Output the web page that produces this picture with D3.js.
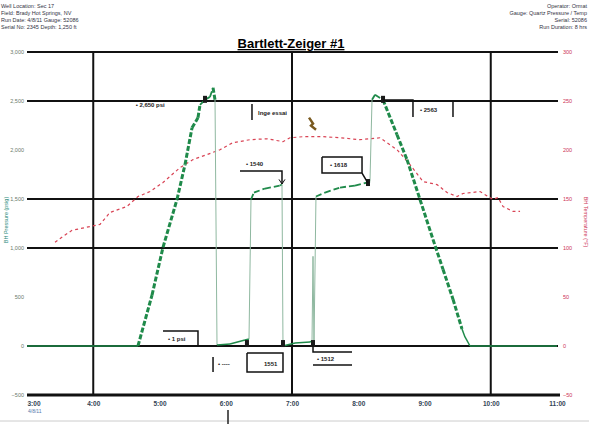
<!DOCTYPE html>
<html>
<head>
<meta charset="utf-8">
<script src="https://cdn.jsdelivr.net/npm/d3@7"></script>
<style>
  body { margin: 0; background: #fff; }
  text { font-family: "Liberation Sans", Arial, sans-serif; }
</style>
</head>
<body>
<div id="chart"></div>
<script>
// time in decimal hours, pressure in psig, temperature in deg F
const pressTime = [3.0, 4.675, 4.887, 5.053, 5.264, 5.385, 5.491, 5.581, 5.611, 5.687, 5.762, 5.808, 5.838,
  5.868, 6.064, 6.29, 6.351, 6.381, 6.426, 6.592, 6.819, 6.849, 6.864, 7.045, 7.272, 7.302, 7.317, 7.332,
  7.362, 7.498, 7.725, 7.951, 8.132, 8.177, 8.208, 8.253, 8.374, 8.585, 8.736, 8.932, 9.128, 9.279, 9.43,
  9.566, 9.611, 9.687, 11.0];
const pressValue = [0, 0, 519, 1007, 1495, 1851, 2227, 2329, 2461, 2512, 2542, 2634, 2512,
  10, 20, 61, 71, 1495, 1566, 1607, 1637, 1648, 0, 31, 41, 51, 915, 20,
  1525, 1566, 1617, 1637, 1668, 1678, 2512, 2563, 2512, 2156, 1902, 1495, 1088, 783, 478,
  173, 92, 0, 0];

const tempTime = [3.423, 3.543, 3.679, 4.102, 4.253, 4.509, 4.675, 4.857, 5.053, 5.309, 5.506, 5.717, 5.913,
  6.109, 6.366, 6.623, 6.864, 6.97, 7.166, 7.317, 7.468, 7.725, 8.026, 8.328, 8.585, 8.781, 8.977, 9.189,
  9.34, 9.491, 9.581, 9.838, 10.034, 10.109, 10.185, 10.336, 10.442];
const tempValue = [105.8, 111.9, 118.0, 124.1, 136.3, 142.4, 152.5, 157.6, 166.8, 182.0, 190.2, 195.3, 200.3,
  207.5, 210.5, 211.5, 208.5, 212.5, 213.6, 213.6, 213.6, 212.5, 210.5, 212.5, 200.3, 185.1, 167.8, 164.7,
  156.6, 152.5, 155.6, 157.6, 149.5, 151.5, 142.4, 137.3, 137.3];

const timeTicks = [3, 4, 5, 6, 7, 8, 9, 10, 11];
const timeLabels = ["3:00", "4:00", "5:00", "6:00", "7:00", "8:00", "9:00", "10:00", "11:00"];
const pressTicks = [-500, 0, 500, 1000, 1500, 2000, 2500, 3000];
const tempTicks = [-50, 0, 50, 100, 150, 200, 250, 300];
const pressGrid = [0, 1000, 1500, 2500, 3000];
const timeGrid = [4, 7, 10];

const markerTime = [5.687, 6.32, 6.864, 7.317, 8.147, 8.374];
const markerPress = [2512, 20, 20, 20, 1663, 2512];

const headerLeft = ["Well Location: Sec 17", "Field: Brady Hot Springs, NV", "Run Date: 4/8/11  Gauge: 52086", "Serial No: 2345  Depth: 1,250 ft"];
const headerRight = ["Operator: Ormat", "Gauge: Quartz Pressure / Temp", "Serial: 52086", "Run Duration: 8 hrs"];

// callouts: polylines and labels in (hours, psig)
const calloutLines = [
  [[6.396, 2469], [6.396, 2306]],
  [[6.215, 1786], [6.849, 1786], [6.849, 1653]],
  [[7.453, 1929], [8.057, 1929], [8.057, 1765], [7.453, 1765], [7.453, 1929]],
  [[8.057, 1765], [8.147, 1663]],
  [[8.374, 2510], [8.826, 2510], [8.826, 2337]],
  [[9.43, 2510], [9.43, 2337]],
  [[5.053, 153], [5.581, 153], [5.581, 0]],
  [[5.808, -112], [5.808, -265]],
  [[6.321, -71], [6.864, -71], [6.864, -265], [6.321, -265], [6.321, -71]],
  [[7.317, 10], [7.317, -61], [7.906, -61]],
  [[7.317, -194], [7.906, -194]]
];
const calloutTexts = [
  [4.64, 2440, "\u2022 2,650 psi"],
  [6.487, 2357, "Inge essai"],
  [6.306, 1840, "\u2022 1540"],
  [7.574, 1830, "\u2022 1618"],
  [8.932, 2390, "\u2022 2563"],
  [5.128, 48, "\u2022 1 psi"],
  [5.883, -205, "\u2022 ----"],
  [6.577, -205, "1551"],
  [7.377, -155, "\u2022 1512"]
];

const width = 589, height = 424;
const svg = d3.select("#chart").append("svg").attr("width", width).attr("height", height);

const x = d3.scaleLinear().domain([3, 11]).range([27, 557]);
const yP = d3.scaleLinear().domain([-500, 3000]).range([395, 52]);
const yT = d3.scaleLinear().domain([-50, 300]).range([395, 52]);

// header text
svg.append("g").selectAll("text").data(headerLeft).join("text")
  .attr("x", 1).attr("y", (d, i) => 8 + i * 7)
  .attr("font-size", 5.5).attr("fill", "#334").text(d => d);
svg.append("g").selectAll("text").data(headerRight).join("text")
  .attr("x", 587).attr("y", (d, i) => 8 + i * 7).attr("text-anchor", "end")
  .attr("font-size", 5.5).attr("fill", "#334").text(d => d);

svg.append("text").attr("x", 291).attr("y", 48).attr("text-anchor", "middle")
  .attr("font-size", 13).attr("font-weight", "bold")
  .attr("text-decoration", "underline").text("Bartlett-Zeiger #1");

// grid
svg.append("g").selectAll("line").data(pressGrid).join("line")
  .attr("x1", x(3)).attr("x2", 558).attr("y1", d => yP(d)).attr("y2", d => yP(d))
  .attr("stroke", "#111").attr("stroke-width", 2);
svg.append("g").selectAll("line").data(timeGrid).join("line")
  .attr("x1", d => x(d)).attr("x2", d => x(d)).attr("y1", yP(3000)).attr("y2", yP(-500))
  .attr("stroke", "#111").attr("stroke-width", 2);

// bottom axis
const xAxis = d3.axisBottom(x).tickValues(timeTicks).tickSize(0).tickFormat((d, i) => timeLabels[i]);
const gx = svg.append("g").attr("transform", `translate(0,${yP(-500)})`).call(xAxis);
gx.select(".domain").attr("stroke", "#111").attr("stroke-width", 3).attr("d", "M0,0H533");
gx.select(".domain").attr("transform", "translate(27,0)");
gx.selectAll("text").attr("font-size", 6.5).attr("font-weight", "bold").attr("fill", "#345").attr("dy", 8);
gx.selectAll(".tick text").filter((d, i) => i === 0).attr("text-anchor", "start").attr("dx", 0);
svg.append("text").attr("x", 28).attr("y", 413).attr("font-size", 5).attr("fill", "#5577aa").text("4/8/11");

// left axis labels
const yAxisL = d3.axisLeft(yP).tickValues(pressTicks).tickSize(0).tickPadding(3);
const gl = svg.append("g").attr("transform", `translate(${x(3)},0)`).call(yAxisL);
gl.select(".domain").remove();
gl.selectAll("text").attr("font-size", 5.5).attr("fill", "#6a7a6a");
svg.append("text").attr("transform", "translate(8,220) rotate(-90)").attr("text-anchor", "middle")
  .attr("font-size", 5.5).attr("fill", "#2a8a7a").text("BH Pressure (psig)");

// right axis labels
const yAxisR = d3.axisRight(yT).tickValues(tempTicks).tickSize(0).tickPadding(5);
const gr = svg.append("g").attr("transform", "translate(558,0)").call(yAxisR);
gr.select(".domain").remove();
gr.selectAll("text").attr("font-size", 5.5).attr("fill", "#cc3355");
svg.append("text").attr("transform", "translate(584,222) rotate(90)").attr("text-anchor", "middle")
  .attr("font-size", 5.5).attr("fill", "#cc3355").text("BH Temperature (\u00b0F)");

// temperature series
const tempData = tempTime.map((t, i) => [t, tempValue[i]]);
svg.append("path").datum(tempData)
  .attr("d", d3.line().x(d => x(d[0])).y(d => yT(d[1])))
  .attr("fill", "none").attr("stroke", "#d94455").attr("stroke-width", 1.2)
  .attr("stroke-dasharray", "3,3");

// pressure series: draw each step, jumps thin, ramps thick dashed, plateaus thin dashed
const pressData = pressTime.map((t, i) => [t, pressValue[i]]);
const segs = d3.pairs(pressData);
const line = d3.line().x(d => x(d[0])).y(d => yP(d[1]));
const segKind = d => {
  const dp = Math.abs(d[1][1] - d[0][1]);
  if (dp > 600) return "jump";
  if (dp >= 100) return "ramp";
  if (d[0][1] > 200) return "plateau";
  return "flat";
};
svg.append("g").selectAll("path").data(segs).join("path")
  .attr("d", d => line(d))
  .attr("fill", "none")
  .attr("stroke", d => segKind(d) === "jump" ? "#8fb8a0" : "#1f8a4a")
  .attr("stroke-width", d => ({ jump: 1, ramp: 3, plateau: 1.8, flat: 1.5 })[segKind(d)])
  .attr("stroke-dasharray", d => ({ ramp: "5,2", plateau: "6,3" })[segKind(d)] || null);

// event markers
svg.append("g").selectAll("rect").data(markerTime).join("rect")
  .attr("x", d => x(d) - 2).attr("y", (d, i) => yP(markerPress[i]) - 4)
  .attr("width", 4).attr("height", 7).attr("fill", "#1a1a1a");
svg.append("path")
  .attr("d", `M${x(7.257)},${yP(2330)} l4,6 l-2,2 l5,4`)
  .attr("fill", "none").attr("stroke", "#7a5a20").attr("stroke-width", 2.5);

// callouts
svg.append("g").selectAll("path").data(calloutLines).join("path")
  .attr("d", d => line(d)).attr("fill", "none").attr("stroke", "#111").attr("stroke-width", 1.5);
svg.append("path")
  .attr("d", `M${x(6.849) - 3},${yP(1700)} L${x(6.849)},${yP(1653)} L${x(6.849) + 3},${yP(1700)}`)
  .attr("fill", "none").attr("stroke", "#111").attr("stroke-width", 1);
svg.append("g").selectAll("text").data(calloutTexts).join("text")
  .attr("x", d => x(d[0])).attr("y", d => yP(d[1]))
  .attr("font-size", 6).attr("font-weight", "bold").attr("fill", "#222").text(d => d[2]);

// bottom frame line
svg.append("line").attr("x1", 0).attr("x2", width).attr("y1", 421).attr("y2", 421)
  .attr("stroke", "#ccc").attr("stroke-width", 1);
svg.append("line").attr("x1", 228).attr("x2", 228).attr("y1", 410).attr("y2", 424)
  .attr("stroke", "#222").attr("stroke-width", 1.5);
</script>
</body>
</html>
